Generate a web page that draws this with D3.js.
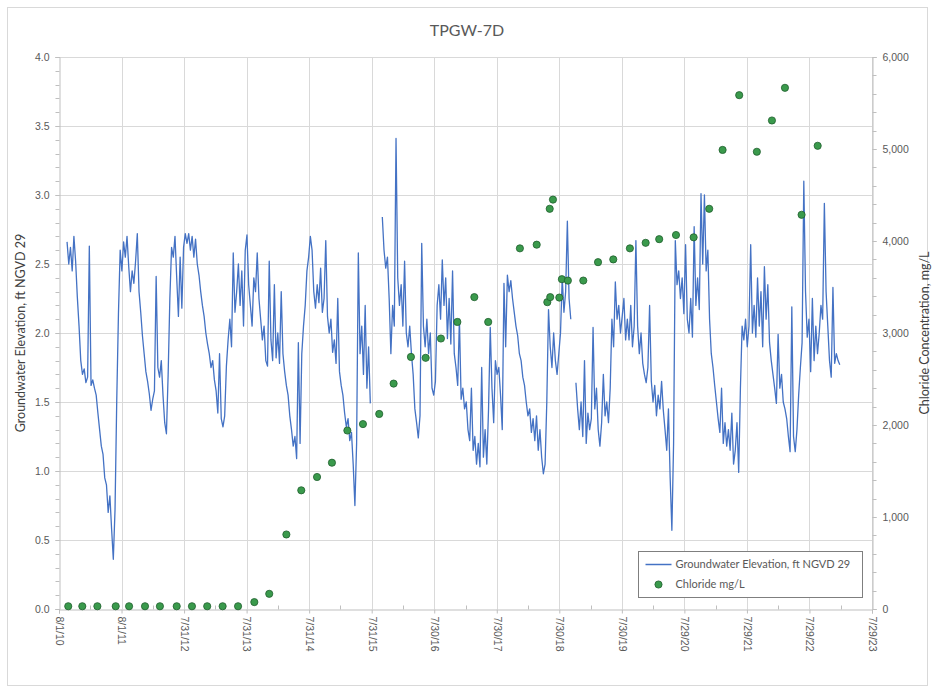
<!DOCTYPE html>
<html>
<head>
<meta charset="utf-8">
<script src="https://cdn.jsdelivr.net/npm/d3@7"></script>
<style>
  html, body { margin: 0; padding: 0; background: #ffffff; }
  svg { display: block; font-family: Lato, "Open Sans", "Liberation Sans", sans-serif; }
</style>
</head>
<body>
<svg id="chart" width="935" height="688"></svg>
<script>
// ---------------- DATA ----------------
const chartTitle = "TPGW-7D";
const leftAxisTitle = "Groundwater Elevation, ft NGVD 29";
const rightAxisTitle = "Chloride Concentration, mg/L";
const seriesNames = ["Groundwater Elevation, ft NGVD 29", "Chloride mg/L"];

// x-axis tick dates (labels as shown)
const xTickDates = ["2010-08-01","2011-08-01","2012-07-31","2013-07-31","2014-07-31","2015-07-31","2016-07-30","2017-07-30","2018-07-30","2019-07-30","2020-07-29","2021-07-29","2022-07-29","2023-07-29"];
const xTickLabels = ["8/1/10","8/1/11","7/31/12","7/31/13","7/31/14","7/31/15","7/30/16","7/30/17","7/30/18","7/30/19","7/29/20","7/29/21","7/29/22","7/29/23"];
const leftTicks = [0, 0.5, 1.0, 1.5, 2.0, 2.5, 3.0, 3.5, 4.0];
const rightTicks = [0, 1000, 2000, 3000, 4000, 5000, 6000];

// Groundwater elevation (ft NGVD 29), one reading every 10 days from the start date; null = no data
const gwStart = "2010-09-17";
const gwStepDays = 10;
const gwValues = [
 2.66,2.50,2.62,2.45,2.70,2.52,2.26,2.05,1.80,1.70,1.74,1.64,1.68,2.63,1.62,1.66,1.60,1.55,1.42,1.30,
 1.18,1.12,0.95,0.90,0.70,0.82,0.58,0.36,0.72,1.51,2.14,2.60,2.45,
 2.66,2.55,2.70,2.48,2.30,2.45,2.36,2.52,2.72,2.30,2.15,1.98,1.85,1.72,1.65,1.56,1.44,1.52,1.58,2.41,
 1.75,1.68,1.80,1.55,1.35,1.27,1.70,2.25,2.62,2.55,2.70,2.40,2.12,2.55,2.18,2.62,2.72,
 2.65,2.72,2.60,2.70,2.55,2.68,2.50,2.42,2.30,2.20,2.12,2.00,1.92,1.85,1.75,1.80,1.66,1.58,1.42,1.85,
 1.38,1.32,1.40,1.76,1.95,2.10,1.90,2.58,2.15,2.30,2.50,2.20,2.45,2.05,2.60,2.71,2.35,
 2.20,2.05,2.40,2.30,2.58,2.25,2.10,1.95,2.05,1.80,1.76,2.52,1.95,1.80,2.35,1.82,2.00,1.78,2.30,1.85,
 1.72,1.62,1.55,1.40,1.30,1.18,1.25,1.09,1.93,1.20,1.85,2.05,2.20,2.45,2.55,2.70,2.60,
 2.30,2.18,2.35,2.22,2.47,2.15,2.25,2.67,2.12,2.00,2.10,1.86,1.95,1.78,2.25,1.72,1.62,1.55,1.42,1.32,
 1.38,1.22,1.28,1.05,0.75,1.20,2.58,1.85,2.05,1.70,2.20,1.60,1.90,1.49,
 null,null,null,null,null,null,
 2.84,2.60,2.47,2.55,2.25,1.85,2.20,2.05,3.41,2.40,2.20,2.35,2.05,2.52,2.00,1.90,2.05,1.85,1.70,1.45,
 1.35,1.24,1.40,2.65,2.05,1.90,2.10,1.85,2.00,1.60,1.55,1.65,2.20,
 2.35,2.10,2.53,2.20,2.40,1.96,2.25,1.92,2.45,1.85,1.75,1.62,2.10,1.52,1.60,1.45,1.50,1.30,1.22,1.60,
 1.15,1.25,1.05,1.20,1.03,1.75,1.10,1.30,1.05,1.45,2.04,1.60,1.35,1.80,1.70,1.75,
 1.55,1.30,2.36,1.90,2.42,2.30,2.38,2.25,2.15,2.05,1.98,1.85,1.80,1.68,1.62,1.50,1.40,1.45,1.28,1.38,
 1.22,1.40,1.15,1.30,1.10,0.98,1.05,1.50,2.17,1.90,1.75,2.00,1.80,1.70,1.85,2.00,2.40,
 2.15,2.30,2.81,2.25,2.10,null,null,1.64,1.45,1.30,1.50,1.25,1.80,1.20,1.42,1.30,1.38,2.04,1.45,1.60,
 1.30,1.18,1.35,1.70,1.40,1.50,1.35,1.60,2.10,1.90,2.37,2.10,2.20,2.00,2.12,2.25,1.95,
 2.10,1.95,2.20,1.90,2.05,2.67,2.05,1.85,2.00,1.78,1.70,1.64,1.75,2.20,1.65,1.50,1.62,1.40,1.55,1.45,
 1.65,1.44,1.30,1.15,1.45,0.95,0.57,1.20,2.67,2.35,2.45,2.25,2.40,2.14,2.64,2.10,2.00,
 2.25,1.97,2.77,2.20,2.40,2.17,3.01,2.50,3.00,2.45,2.60,2.10,1.85,1.75,1.62,1.50,1.38,1.28,1.60,1.20,
 1.35,1.18,1.30,1.15,1.42,1.05,1.15,1.35,0.99,1.60,2.05,1.95,2.10,1.90,2.05,2.64,2.00,
 2.20,1.97,2.40,2.05,2.30,1.90,2.48,2.10,2.35,1.93,1.80,1.70,1.60,1.49,1.99,1.60,1.70,1.50,1.45,1.38,
 1.25,1.14,2.19,1.25,1.14,1.30,1.55,1.75,1.93,3.10,2.30,1.97,2.10,1.72,2.25,1.80,
 2.05,1.85,2.00,2.20,2.10,2.94,2.30,2.05,1.80,1.68,2.33,1.78,1.85,1.80,1.77
];

// Chloride sample dates and concentrations (mg/L)
const clDates = ["2010-09-24","2010-12-15","2011-03-13","2011-06-28","2011-09-14","2011-12-16","2012-03-12","2012-06-18","2012-09-15","2012-12-13","2013-03-13","2013-06-11",
 "2013-09-14","2013-12-10","2014-03-20","2014-06-15","2014-09-15","2014-12-11","2015-03-11","2015-06-10","2015-09-13","2015-12-06","2016-03-16","2016-06-10",
 "2016-09-07","2016-12-12","2017-03-21","2017-06-10","2017-12-12","2018-03-20","2018-05-21","2018-06-04","2018-06-07","2018-06-23","2018-07-30","2018-08-14",
 "2018-09-18","2018-12-17","2019-03-13","2019-06-10","2019-09-15","2019-12-16","2020-03-04","2020-06-10","2020-09-21","2020-12-21","2021-03-09","2021-06-14",
 "2021-09-25","2021-12-22","2022-03-08","2022-06-13","2022-09-15"];
const clValues = [30,30,30,30,30,30,30,30,30,30,30,30,
 75,165,810,1290,1435,1590,1940,2010,2120,2450,2740,2730,
 2940,3120,3390,3120,3920,3960,3335,4350,3390,4450,3385,3585,
 3570,3570,3770,3800,3920,3980,4020,4065,4040,4350,4990,5585,
 4970,5310,5665,4285,5035];

// ---------------- CHART ----------------
const M = { left: 59, right: 872, top: 57, bottom: 609 };
const svg = d3.select("#chart");
const parse = d3.utcParse("%Y-%m-%d");
const gridColor = "#d9d9d9";
const textColor = "#595959";
const lineColor = "#4472c4";

// outer frame
svg.append("rect").attr("x", 7.5).attr("y", 7.5).attr("width", 920).attr("height", 678)
  .attr("fill", "#fff").attr("stroke", "#d9d9d9").attr("stroke-width", 1);

const xDomain = [parse(xTickDates[0]), parse(xTickDates[xTickDates.length - 1])];
const x = d3.scaleUtc().domain(xDomain).range([M.left, M.right]);
const yL = d3.scaleLinear().domain([0, 4]).range([M.bottom, M.top]);
const yR = d3.scaleLinear().domain([0, 6000]).range([M.bottom, M.top]);

// gridlines
const grid = svg.append("g");
grid.selectAll("line.h").data(leftTicks.slice(1)).join("line")
  .attr("x1", M.left).attr("x2", M.right)
  .attr("y1", d => Math.round(yL(d)) + 0.5).attr("y2", d => Math.round(yL(d)) + 0.5)
  .attr("stroke", gridColor).attr("stroke-width", 1);
grid.selectAll("line.v").data(xTickDates.slice(1)).join("line")
  .attr("x1", d => Math.round(x(parse(d))) + 0.5).attr("x2", d => Math.round(x(parse(d))) + 0.5)
  .attr("y1", M.top).attr("y2", M.bottom)
  .attr("stroke", gridColor).attr("stroke-width", 1);

// left axis
const leftAxis = d3.axisLeft(yL).tickValues(leftTicks).tickFormat(d3.format(".1f")).tickSize(4).tickPadding(6);
const gL = svg.append("g").attr("transform", `translate(${M.left + 0.5},0)`).call(leftAxis);
const leftMinor = d3.range(0, 41).map(i => i / 10);
gL.selectAll("line.minor").data(leftMinor).join("line").attr("class", "minor")
  .attr("x1", -4).attr("x2", 0).attr("y1", d => Math.round(yL(d)) + 0.5).attr("y2", d => Math.round(yL(d)) + 0.5)
  .attr("stroke", "#bfbfbf");

// right axis
const rightAxis = d3.axisRight(yR).tickValues(rightTicks).tickFormat(d3.format(",")).tickSize(4).tickPadding(6);
const gR = svg.append("g").attr("transform", `translate(${M.right + 0.5},0)`).call(rightAxis);
const rightMinor = d3.range(0, 31).map(i => i * 200);
gR.selectAll("line.minor").data(rightMinor).join("line").attr("class", "minor")
  .attr("x1", 0).attr("x2", 4).attr("y1", d => Math.round(yR(d)) + 0.5).attr("y2", d => Math.round(yR(d)) + 0.5)
  .attr("stroke", "#bfbfbf");

// bottom axis
const bottomAxis = d3.axisBottom(x).tickValues(xTickDates.map(parse))
  .tickFormat((d, i) => xTickLabels[i]).tickSize(4).tickPadding(4);
const gB = svg.append("g").attr("transform", `translate(0,${M.bottom + 0.5})`).call(bottomAxis);
gB.selectAll("text").attr("transform", "rotate(90)").attr("text-anchor", "start")
  .attr("x", 7).attr("y", 0).attr("dy", "0.35em");
const xMinor = xTickDates.slice(0, -1).map((d, i) => new Date((parse(d).getTime() + parse(xTickDates[i + 1]).getTime()) / 2));
gB.selectAll("line.minor").data(xMinor).join("line").attr("class", "minor")
  .attr("x1", d => Math.round(x(d)) + 0.5).attr("x2", d => Math.round(x(d)) + 0.5)
  .attr("y1", -4).attr("y2", 0).attr("stroke", "#bfbfbf");

[gL, gR, gB].forEach(g => {
  g.select(".domain").attr("stroke", "#bfbfbf");
  g.selectAll(".tick line").attr("stroke", "#bfbfbf");
  g.selectAll("text").attr("fill", textColor).style("font-size", "10.5px");
});

// groundwater line
const gwData = gwValues.map((v, i) => ({ date: d3.utcDay.offset(parse(gwStart), i * gwStepDays), value: v }));
const line = d3.line().defined(d => d.value !== null)
  .x(d => x(d.date)).y(d => yL(d.value));
svg.append("path").datum(gwData).attr("d", line)
  .attr("fill", "none").attr("stroke", lineColor).attr("stroke-width", 1.3).attr("stroke-linejoin", "round");

// chloride points
const clData = clDates.map((d, i) => ({ date: parse(d), value: clValues[i] }));
svg.append("g").selectAll("circle").data(clData).join("circle")
  .attr("cx", d => x(d.date)).attr("cy", d => yR(d.value)).attr("r", 3.6)
  .attr("fill", "#3a9a4c").attr("stroke", "#1f5e2d").attr("stroke-width", 0.8);

// title
svg.append("text").attr("x", 467).attr("y", 36).attr("text-anchor", "middle")
  .attr("fill", textColor).style("font-size", "16px").text(chartTitle);

// axis titles
svg.append("text").attr("transform", `translate(25,${(M.top + M.bottom) / 2}) rotate(-90)`)
  .attr("text-anchor", "middle").attr("fill", "#404040").style("font-size", "12.5px").text(leftAxisTitle);
svg.append("text").attr("transform", `translate(929,${(M.top + M.bottom) / 2}) rotate(-90)`)
  .attr("text-anchor", "middle").attr("fill", "#404040").style("font-size", "12.5px").text(rightAxisTitle);

// legend
const lg = svg.append("g").attr("transform", "translate(638.5,551.5)");
lg.append("rect").attr("width", 224).attr("height", 46).attr("fill", "#fff").attr("stroke", "#7f7f7f").attr("stroke-width", 1);
lg.append("line").attr("x1", 7).attr("x2", 33).attr("y1", 13).attr("y2", 13).attr("stroke", lineColor).attr("stroke-width", 1.5);
lg.append("text").attr("x", 37).attr("y", 13).attr("dy", "0.35em").attr("fill", textColor).style("font-size", "11px").text(seriesNames[0]);
lg.append("circle").attr("cx", 20).attr("cy", 33).attr("r", 3.6).attr("fill", "#3a9a4c").attr("stroke", "#1f5e2d").attr("stroke-width", 0.8);
lg.append("text").attr("x", 37).attr("y", 33).attr("dy", "0.35em").attr("fill", textColor).style("font-size", "11px").text(seriesNames[1]);
</script>
</body>
</html>
